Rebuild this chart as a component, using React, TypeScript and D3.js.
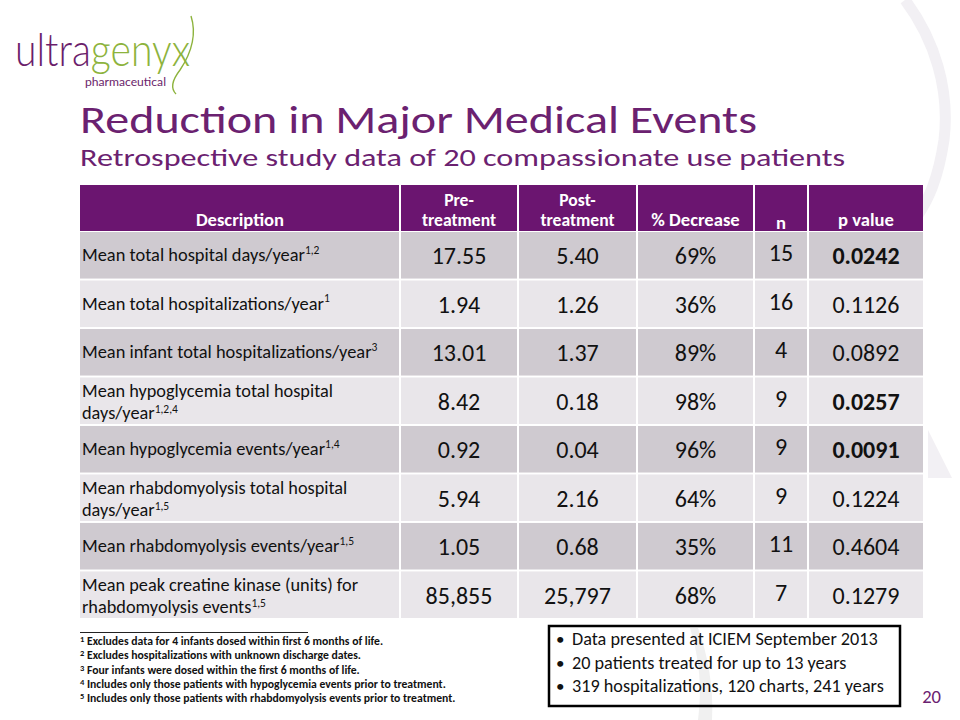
import React from "react";
import * as d3 from "d3";

const FONT = "Carlito, Calibri, Lato, 'Open Sans', sans-serif";
const PURPLE = "#6b2170";
const HEADER_BG = "#6b1570";
const ROW_DARK = "#cfcad0";
const ROW_LIGHT = "#e9e6ea";

// ---- data ----
const headerLabels = [["Description"], ["Pre-", "treatment"], ["Post-", "treatment"], ["% Decrease"], ["n"], ["p value"]];
const descLines = [
  ["Mean total hospital days/year"],
  ["Mean total hospitalizations/year"],
  ["Mean infant total hospitalizations/year"],
  ["Mean hypoglycemia total hospital", "days/year"],
  ["Mean hypoglycemia events/year"],
  ["Mean rhabdomyolysis total hospital", "days/year"],
  ["Mean rhabdomyolysis events/year"],
  ["Mean peak creatine kinase (units) for", "rhabdomyolysis events"],
];
const descSup = ["1,2", "1", "3", "1,2,4", "1,4", "1,5", "1,5", "1,5"];
const preTreatment = ["17.55", "1.94", "13.01", "8.42", "0.92", "5.94", "1.05", "85,855"];
const postTreatment = ["5.40", "1.26", "1.37", "0.18", "0.04", "2.16", "0.68", "25,797"];
const pctDecrease = ["69%", "36%", "89%", "98%", "96%", "64%", "35%", "68%"];
const nValues = ["15", "16", "4", "9", "9", "9", "11", "7"];
const pValues = ["0.0242", "0.1126", "0.0892", "0.0257", "0.0091", "0.1224", "0.4604", "0.1279"];
const pBold = [true, false, false, true, true, false, false, false];

const footSup = ["1", "2", "3", "4", "5"];
const footnotes = [
  "Excludes data for 4 infants dosed within first 6 months of life.",
  "Excludes hospitalizations with unknown discharge dates.",
  "Four infants were dosed within the first 6 months of life.",
  "Includes only those patients with hypoglycemia events prior to treatment.",
  "Includes only those patients with rhabdomyolysis events prior to treatment.",
];
const bullets = [
  "Data presented at ICIEM September 2013",
  "20 patients treated for up to 13 years",
  "319 hospitalizations, 120 charts, 241 years",
];

const titleText = "Reduction in Major Medical Events";
const subtitleText = "Retrospective study data of 20 compassionate use patients";

// ---- layout ----
const colWidths = [320, 118, 119, 117, 54, 116];
const tableLeft = 80;
const colEdges = [tableLeft, ...d3.cumsum(colWidths).map((w) => tableLeft + w)];
const headerTop = 185;
const headerBottom = 231;

export default function App() {
  const rowIdx = d3.range(descLines.length);
  const y = d3.scaleBand<number>().domain(rowIdx).range([232, 618]).paddingInner(0.04).paddingOuter(0);
  const colCenter = (i: number) => (colEdges[i] + colEdges[i + 1]) / 2;
  const valueCols = [preTreatment, postTreatment, pctDecrease, nValues, pValues];

  return (
    <svg
      width={960}
      height={720}
      style={{ position: "absolute", left: 0, top: 0, background: "#fff" }}
      fontFamily={FONT}
    >
      <rect x={0} y={0} width={960} height={720} fill="#fff" />
      {/* background decorations */}
      <path d="M905,0 C935,40 950,90 944,140 C938,180 928,200 918,215" fill="none" stroke="#f2f0f4" strokeWidth={11} />
      <path d="M928,430 L952,478 L928,478 Z" fill="#f2f0f4" />
      <path d="M690,628 C700,660 702,690 698,720 L712,720 C714,690 708,655 698,628 Z" fill="#f0f0f0" />

      {/* logo */}
      <text x={15} y={66} fontSize={45} fontWeight={300} fontFamily="Lato, 'Open Sans', sans-serif" textLength={175} lengthAdjust="spacingAndGlyphs">
        <tspan fill="#6b1e6b">ultra</tspan>
        <tspan fill="#8db33d">genyx</tspan>
      </text>
      <path d="M191,16 C198,38 188,58 180,70 C173,79 170,88 176,94" fill="none" stroke="#8db33d" strokeWidth={1.4} />
      <text x={85} y={86} fontSize={10.5} fill="#6b1e6b" fontFamily="Lato, 'Open Sans', sans-serif" textLength={81} lengthAdjust="spacingAndGlyphs">pharmaceutical</text>

      {/* titles */}
      <text x={80} y={133} fontSize={38} fill={PURPLE} textLength={677} lengthAdjust="spacingAndGlyphs">{titleText}</text>
      <text x={80} y={166} fontSize={24} fill={PURPLE} textLength={765} lengthAdjust="spacingAndGlyphs">{subtitleText}</text>

      {/* header */}
      {headerLabels.map((lines, i) => (
        <g key={"h" + i}>
          <rect x={colEdges[i] + (i === 0 ? 0 : 1)} y={headerTop} width={colWidths[i] - (i === 0 ? 1 : 2)} height={headerBottom - headerTop} fill={HEADER_BG} />
          {lines.length === 2 ? (
            <text x={colCenter(i)} y={206} textAnchor="middle" fontSize={17.6} fontWeight={700} fill="#fff">
              <tspan x={colCenter(i)} y={205.5}>{lines[0]}</tspan>
              <tspan x={colCenter(i)} y={225.5}>{lines[1]}</tspan>
            </text>
          ) : (
            <text x={colCenter(i)} y={i === 4 ? 229 : 226} textAnchor="middle" fontSize={18.6} fontWeight={700} fill="#fff">{lines[0]}</text>
          )}
        </g>
      ))}

      {/* body */}
      {rowIdx.map((r) => {
        const y0 = y(r) as number;
        const h = y.bandwidth();
        const cy = y0 + h / 2;
        const fill = r % 2 === 0 ? ROW_DARK : ROW_LIGHT;
        const lines = descLines[r];
        return (
          <g key={"r" + r}>
            {colWidths.map((w, c) => (
              <rect key={c} x={colEdges[c] + (c === 0 ? 0 : 1)} y={y0} width={w - (c === 0 ? 1 : 2)} height={h} fill={fill} />
            ))}
            {lines.length === 1 ? (
              <text x={82} y={cy + 6} fontSize={18.4} fill="#111">
                {lines[0]}
                <tspan fontSize={11.5} dy={-7.5}>{descSup[r]}</tspan>
              </text>
            ) : (
              <text x={82} y={cy - 3.5} fontSize={18.3} fill="#111">
                <tspan x={82} y={cy - 3.5}>{lines[0]}</tspan>
                <tspan x={82} y={cy + 18.5}>{lines[1]}</tspan>
                <tspan fontSize={11.5} dy={-6.5}>{descSup[r]}</tspan>
              </text>
            )}
            {valueCols.map((vals, k) => {
              const c = k + 1;
              const bold = k === 4 && pBold[r];
              return (
                <text
                  key={k}
                  x={colCenter(c)}
                  y={cy + (k === 3 ? 6 : 9)}
                  textAnchor="middle"
                  fontSize={24}
                  fontWeight={bold ? 700 : 400}
                  fill="#111"
                >
                  {vals[r]}
                </text>
              );
            })}
          </g>
        );
      })}

      {/* footnotes */}
      <line x1={80} x2={308} y1={632.5} y2={632.5} stroke="#222" strokeWidth={1} />
      {footnotes.map((t, i) => (
        <text key={"f" + i} x={80} y={645 + i * 14.3} fontSize={11.7} fontWeight={600} fill="#111">
          <tspan fontSize={8.5} dy={-3}>{footSup[i]}</tspan>
          <tspan dy={3}> {t}</tspan>
        </text>
      ))}

      {/* info box */}
      <rect x={549} y={626} width={351} height={80} fill="none" stroke="#000" strokeWidth={2.5} />
      {bullets.map((b, i) => (
        <g key={"b" + i}>
          <text x={556} y={645 + i * 23.5} fontSize={17} fill="#111">•</text>
          <text x={572} y={645 + i * 23.5} fontSize={18.2} fill="#111">{b}</text>
        </g>
      ))}

      {/* page number */}
      <text x={941} y={703} textAnchor="end" fontSize={18.6} fill={PURPLE}>20</text>
    </svg>
  );
}
